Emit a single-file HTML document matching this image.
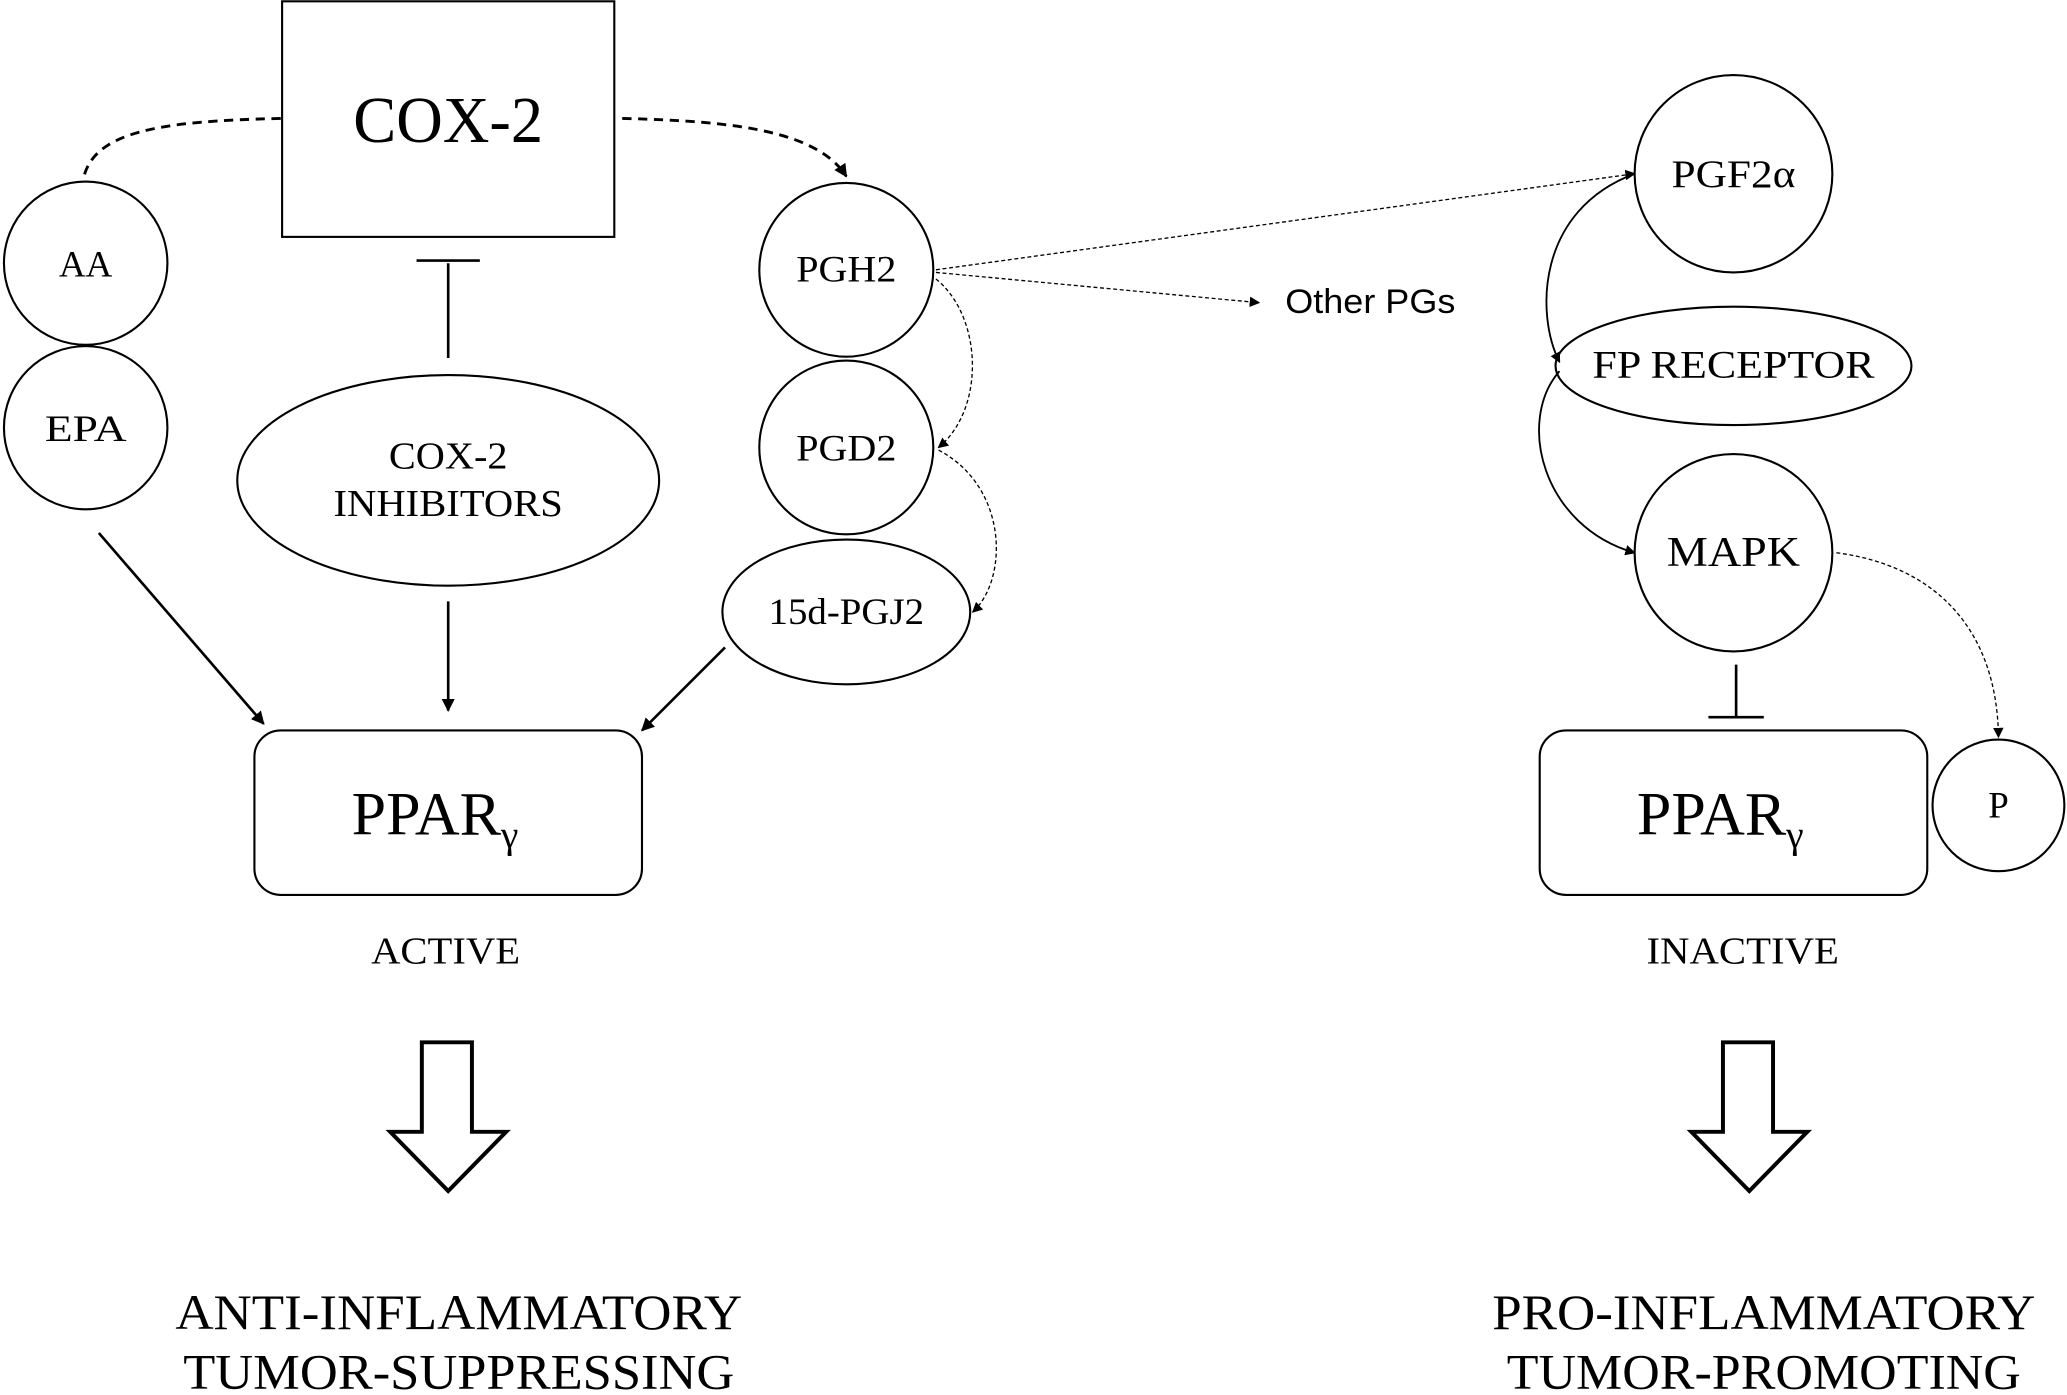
<!DOCTYPE html>
<html><head><meta charset="utf-8"><style>
html,body{margin:0;padding:0;background:#fff;}
svg{display:block;}
text{font-family:"Liberation Serif",serif;fill:#000;}
</style></head><body>
<svg width="2067" height="1395" viewBox="0 0 1568 1060" preserveAspectRatio="none" xmlns="http://www.w3.org/2000/svg">
<defs>
<marker id="a" markerWidth="10" markerHeight="10" refX="9" refY="5" orient="auto" markerUnits="userSpaceOnUse"><path d="M0,0 L10,5 L0,10 z" fill="#000"/></marker>
<marker id="s" markerWidth="8" markerHeight="8" refX="7" refY="4" orient="auto" markerUnits="userSpaceOnUse"><path d="M0,0 L8,4 L0,8 z" fill="#000"/></marker>
</defs>
<g fill="none" stroke="#000" stroke-width="1.6">
<rect x="214" y="1" width="252" height="179"/>
<circle cx="65" cy="200" r="62"/>
<circle cx="65" cy="325" r="62"/>
<circle cx="642" cy="205" r="66"/>
<circle cx="642" cy="340" r="66"/>
<ellipse cx="642" cy="465" rx="94" ry="55"/>
<ellipse cx="340" cy="365" rx="160" ry="80"/>
<rect x="193" y="555" width="294" height="125" rx="20"/>
<circle cx="1315" cy="132" r="75"/>
<ellipse cx="1315" cy="278" rx="135" ry="45"/>
<circle cx="1315" cy="420" r="75"/>
<rect x="1168" y="555" width="294" height="125" rx="20"/>
<circle cx="1516" cy="612" r="50"/>
<path d="M213,90 C120,92 70,100 63,137" stroke-dasharray="7,5" stroke-width="2.2"/>
<path d="M472,90 C560,92 620,100 642,134" stroke-dasharray="7,5" stroke-width="2.2" marker-end="url(#a)"/>
<path d="M340,200 L340,272 M316,198 L364,198" stroke-width="2"/>
<path d="M340,457 L340,540" stroke-width="2" marker-end="url(#a)"/>
<path d="M75,405 L200,550" stroke-width="2" marker-end="url(#a)"/>
<path d="M550,492 L487,555" stroke-width="2" marker-end="url(#a)"/>
<path d="M710,205 L1240,132" stroke-dasharray="3,2" stroke-width="1" marker-end="url(#s)"/>
<path d="M710,207 L955,230" stroke-dasharray="3,2" stroke-width="1" marker-end="url(#s)"/>
<path d="M710,212 C745,240 748,310 712,340" stroke-dasharray="3,2" stroke-width="1" marker-end="url(#s)"/>
<path d="M712,342 C765,370 765,440 738,465" stroke-dasharray="3,2" stroke-width="1" marker-end="url(#s)"/>
<path d="M1240,132 C1165,160 1165,240 1183,275" stroke-width="1.4" marker-end="url(#s)"/>
<path d="M1183,282 C1150,320 1170,400 1240,420" stroke-width="1.4" marker-end="url(#s)"/>
<path d="M1317,505 L1317,545 M1296,545 L1338,545" stroke-width="2"/>
<path d="M1393,420 C1470,430 1515,480 1516,560" stroke-dasharray="3,2" stroke-width="1" marker-end="url(#s)"/>
<path d="M320,792 H358 V860 H384 L340,905 L296,860 H320 Z" stroke-width="3"/>
<path d="M1307,792 H1345 V860 H1371 L1327,905 L1283,860 H1307 Z" stroke-width="3"/>
</g>
<g text-anchor="middle" lengthAdjust="spacingAndGlyphs">
<text x="340" y="108" font-size="50" textLength="144" lengthAdjust="spacingAndGlyphs">COX-2</text>
<text x="65" y="210" font-size="28">AA</text>
<text x="65" y="335" font-size="28" textLength="62" lengthAdjust="spacingAndGlyphs">EPA</text>
<text x="642" y="214" font-size="28" textLength="76" lengthAdjust="spacingAndGlyphs">PGH2</text>
<text x="642" y="350" font-size="28" textLength="76" lengthAdjust="spacingAndGlyphs">PGD2</text>
<text x="642" y="474" font-size="28" textLength="118" lengthAdjust="spacingAndGlyphs">15d-PGJ2</text>
<text x="340" y="356" font-size="29" textLength="90" lengthAdjust="spacingAndGlyphs">COX-2</text>
<text x="340" y="392" font-size="29" textLength="174" lengthAdjust="spacingAndGlyphs">INHIBITORS</text>
<text x="330" y="634" font-size="47">PPAR<tspan font-size="30" dy="10">γ</tspan></text>
<text x="338" y="732" font-size="29" textLength="113" lengthAdjust="spacingAndGlyphs">ACTIVE</text>
<text x="348" y="1010" font-size="38" textLength="430" lengthAdjust="spacingAndGlyphs">ANTI-INFLAMMATORY</text>
<text x="348" y="1055" font-size="38" textLength="418" lengthAdjust="spacingAndGlyphs">TUMOR-SUPPRESSING</text>
<text x="1315" y="142" font-size="30" textLength="94" lengthAdjust="spacingAndGlyphs">PGF2α</text>
<text x="1315" y="287" font-size="30" textLength="214" lengthAdjust="spacingAndGlyphs">FP RECEPTOR</text>
<text x="1315" y="430" font-size="32" textLength="101" lengthAdjust="spacingAndGlyphs">MAPK</text>
<text x="1305" y="634" font-size="47">PPAR<tspan font-size="30" dy="10">γ</tspan></text>
<text x="1516" y="621" font-size="28">P</text>
<text x="1322" y="732" font-size="29" textLength="146" lengthAdjust="spacingAndGlyphs">INACTIVE</text>
<text x="1338" y="1010" font-size="38" textLength="412" lengthAdjust="spacingAndGlyphs">PRO-INFLAMMATORY</text>
<text x="1338" y="1055" font-size="38" textLength="390" lengthAdjust="spacingAndGlyphs">TUMOR-PROMOTING</text>
</g>
<text x="975" y="238" font-size="26" textLength="129" lengthAdjust="spacingAndGlyphs" style="font-family:'Liberation Sans',sans-serif">Other PGs</text>
</svg>
</body></html>
